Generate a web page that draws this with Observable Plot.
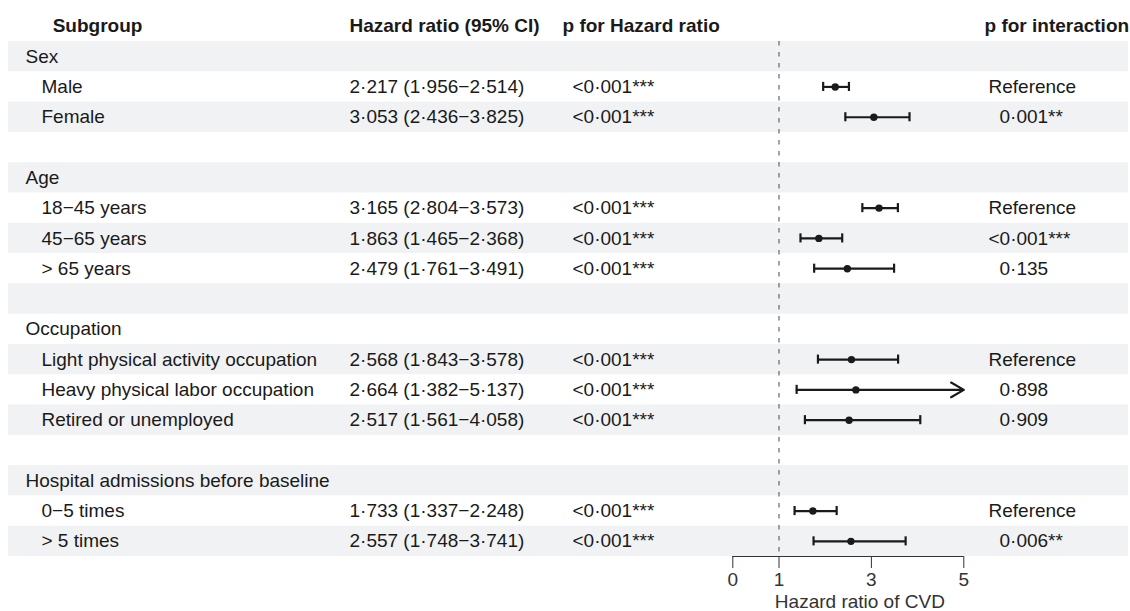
<!DOCTYPE html>
<html><head><meta charset="utf-8">
<script src="https://cdn.jsdelivr.net/npm/d3@7"></script>
<script src="https://cdn.jsdelivr.net/npm/@observablehq/plot@0.6"></script>
<style>body{margin:0;background:#fff;} svg{display:block}</style>
</head><body><div id="chart"></div>
<script>
const groups = ["Sex", "Age", "Occupation", "Hospital admissions before baseline"];
const subgroups = ["Male", "Female", "18−45 years", "45−65 years", "> 65 years",
  "Light physical activity occupation", "Heavy physical labor occupation", "Retired or unemployed",
  "0−5 times", "> 5 times"];
const subgroupGroup = ["Sex", "Sex", "Age", "Age", "Age", "Occupation", "Occupation", "Occupation",
  "Hospital admissions before baseline", "Hospital admissions before baseline"];
const hr = [2.217, 3.053, 3.165, 1.863, 2.479, 2.568, 2.664, 2.517, 1.733, 2.557];
const lower = [1.956, 2.436, 2.804, 1.465, 1.761, 1.843, 1.382, 1.561, 1.337, 1.748];
const upper = [2.514, 3.825, 3.573, 2.368, 3.491, 3.578, 5.137, 4.058, 2.248, 3.741];
const pHR = ["<0·001***", "<0·001***", "<0·001***", "<0·001***", "<0·001***",
  "<0·001***", "<0·001***", "<0·001***", "<0·001***", "<0·001***"];
const pInteraction = ["Reference", "0·001**", "Reference", "<0·001***", "0·135",
  "Reference", "0·898", "0·909", "Reference", "0·006**"];
const xTicks = [0, 1, 3, 5];
const xDomain = [0, 5.5];
const headers = ["Subgroup", "Hazard ratio (95% CI)", "p for Hazard ratio", "p for interaction"];
const axisTitle = "Hazard ratio of CVD";

const fmt = v => v.toFixed(3).replace(".", "·");
const xMax = d3.max(xTicks);

// build table rows
const rows = [];
groups.forEach((g, gi) => {
  if (gi > 0) rows.push({kind: "blank", label: ""});
  rows.push({kind: "group", label: g});
  subgroups.forEach((s, k) => {
    if (subgroupGroup[k] !== g) return;
    rows.push({kind: "sub", label: s, hr: hr[k], lo: lower[k], hi: upper[k],
      hrText: `${fmt(hr[k])} (${fmt(lower[k])}−${fmt(upper[k])})`,
      p: pHR[k], pint: pInteraction[k]});
  });
});
rows.forEach((r, i) => r.i = i);
const subs = rows.filter(r => r.kind === "sub");
const inRange = subs.filter(r => r.hi <= xMax);
const clipped = subs.filter(r => r.hi > xMax);
const bands = rows.filter(r => r.i % 2 === 0);
const N = rows.length;
const ink = "#1a1a1a";
const cap = 0.15;

const leftText = (data, opts) => Plot.text(data, {frameAnchor: "left", textAnchor: "start", fill: ink, ...opts});

const chart = Plot.plot({
  width: 1130, height: 611,
  marginLeft: 8, marginRight: 2, marginTop: 41, marginBottom: 55,
  x: {domain: xDomain, range: [732.3, 986.4]},
  y: {domain: [-0.5, N - 0.5], reverse: true, axis: null},
  style: {fontFamily: "'Liberation Sans', Arial, sans-serif", fontSize: "19px", color: ink, background: "#fff"},
  marks: [
    Plot.rect(bands, {y1: d => d.i - 0.5, y2: d => d.i + 0.5, fill: "#f1f2f4"}),
    Plot.ruleX([1], {stroke: "#666", strokeWidth: 1.2, strokeDasharray: "4.5,6.5"}),
    Plot.ruleY([N - 0.5], {x1: d3.min(xTicks), x2: xMax, stroke: "#333", strokeWidth: 1.1}),
    Plot.axisX({ticks: xTicks, tickFormat: d => String(d), tickSize: 12, tickPadding: 4, stroke: "#333", fill: "#333",
      fontSize: 19, label: null}),
    Plot.text([axisTitle], {x: () => d3.mean(xDomain), text: d => d, frameAnchor: "bottom", lineAnchor: "middle", dy: 45, fill: "#333"}),
    // CI lines
    Plot.ruleY(inRange, {y: "i", x1: "lo", x2: "hi", stroke: ink, strokeWidth: 2.2}),
    Plot.arrow(clipped, {x1: "lo", x2: () => xMax, y1: "i", y2: "i", stroke: ink, strokeWidth: 2.2, headLength: 10, bend: 0}),
    Plot.ruleX(subs, {x: "lo", y1: d => d.i - cap, y2: d => d.i + cap, stroke: ink, strokeWidth: 2.2}),
    Plot.ruleX(inRange, {x: "hi", y1: d => d.i - cap, y2: d => d.i + cap, stroke: ink, strokeWidth: 2.2}),
    Plot.dot(subs, {x: "hr", y: "i", r: 3.7, fill: ink, stroke: "none"}),
    // table text
    leftText(rows.filter(r => r.kind === "group"), {y: "i", text: "label", dx: 17}),
    leftText(subs, {y: "i", text: "label", dx: 33}),
    leftText(subs, {y: "i", text: "hrText", dx: 341}),
    leftText(subs, {y: "i", text: "p", dx: 564}),
    leftText(subs.filter(r => !/^\d/.test(r.pint)), {y: "i", text: "pint", dx: 980}),
    leftText(subs.filter(r => /^\d/.test(r.pint)), {y: "i", text: "pint", dx: 991}),
    // headers
    Plot.text([headers[0]], {y: () => -1, text: d => d, frameAnchor: "left", textAnchor: "middle", dx: 89, fontWeight: "bold", fill: ink}),
    leftText([headers[1]], {y: () => -1, text: d => d, dx: 341, fontWeight: "bold"}),
    leftText([headers[2]], {y: () => -1, text: d => d, dx: 554, fontWeight: "bold"}),
    leftText([headers[3]], {y: () => -1, text: d => d, dx: 976, fontWeight: "bold"})
  ]
});
document.getElementById("chart").append(chart);
</script>
</body></html>
